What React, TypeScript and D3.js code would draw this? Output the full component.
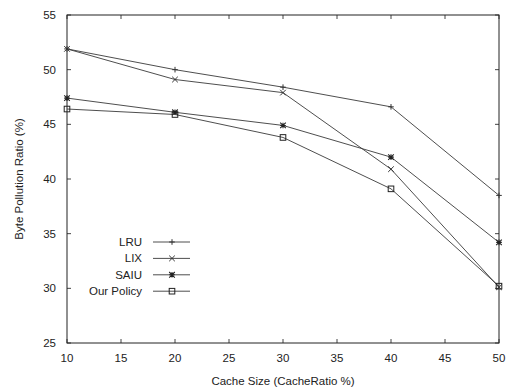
import React from 'react';
import * as d3 from 'd3';

const cacheSizes = [10, 20, 30, 40, 50];
const lru = [51.9, 50.0, 48.4, 46.6, 38.5];
const lix = [51.9, 49.1, 47.9, 40.9, 30.1];
const saiu = [47.4, 46.1, 44.9, 42.0, 34.2];
const ourPolicy = [46.4, 45.9, 43.8, 39.1, 30.2];
const seriesNames = ['LRU', 'LIX', 'SAIU', 'Our Policy'];
const markerTypes = ['plus', 'cross', 'star', 'square'];
const xTicks = [10, 15, 20, 25, 30, 35, 40, 45, 50];
const yTicks = [25, 30, 35, 40, 45, 50, 55];

const W = 515;
const H = 391;
const margin = { top: 15, right: 16, bottom: 48, left: 67 };
const font = '"Liberation Sans", Arial, sans-serif';

const Marker = ({ type, x, y }: { type: string; x: number; y: number }) => {
  const s = 2.8;
  if (type === 'plus') {
    return <path d={`M${x - s},${y}H${x + s}M${x},${y - s}V${y + s}`} stroke="#333" fill="none" />;
  }
  if (type === 'cross') {
    return <path d={`M${x - s},${y - s}L${x + s},${y + s}M${x - s},${y + s}L${x + s},${y - s}`} stroke="#333" fill="none" />;
  }
  if (type === 'star') {
    return (
      <path
        d={`M${x - s},${y}H${x + s}M${x},${y - s}V${y + s}M${x - s},${y - s}L${x + s},${y + s}M${x - s},${y + s}L${x + s},${y - s}`}
        stroke="#222"
        strokeWidth={1.1}
        fill="none"
      />
    );
  }
  return <rect x={x - s} y={y - s} width={s * 2} height={s * 2} stroke="#222" fill="none" />;
};

const App = () => {
  const x = d3.scaleLinear().domain([10, 50]).range([margin.left, W - margin.right]);
  const y = d3.scaleLinear().domain([25, 55]).range([H - margin.bottom, margin.top]);
  const series = [lru, lix, saiu, ourPolicy];
  const line = d3
    .line<number>()
    .x((_, i) => x(cacheSizes[i]))
    .y(d => y(d));

  const x0 = margin.left;
  const x1 = W - margin.right;
  const y0 = H - margin.bottom;
  const y1 = margin.top;
  const tick = 4;

  return (
    <svg width={W} height={H} style={{ position: 'absolute', left: 0, top: 0, background: '#fff' }} fontFamily={font}>
      <rect x={0} y={0} width={W} height={H} fill="#fff" />
      {/* ticks, mirrored inward on all sides */}
      {xTicks.map(t => (
        <g key={'x' + t}>
          <line x1={x(t)} x2={x(t)} y1={y0} y2={y0 - tick} stroke="#444" />
          <line x1={x(t)} x2={x(t)} y1={y1} y2={y1 + tick} stroke="#444" />
          <text x={x(t)} y={y0 + 19} textAnchor="middle" fontSize={11.5} fill="#222">
            {t}
          </text>
        </g>
      ))}
      {yTicks.map(t => (
        <g key={'y' + t}>
          <line x1={x0} x2={x0 + tick} y1={y(t)} y2={y(t)} stroke="#444" />
          <line x1={x1} x2={x1 - tick} y1={y(t)} y2={y(t)} stroke="#444" />
          <text x={x0 - 11} y={y(t) + 4} textAnchor="end" fontSize={11.5} fill="#222">
            {t}
          </text>
        </g>
      ))}
      <rect x={x0} y={y1} width={x1 - x0} height={y0 - y1} fill="none" stroke="#222" strokeWidth={1} />

      {series.map((vals, si) => (
        <g key={seriesNames[si]}>
          <path d={line(vals) || ''} fill="none" stroke="#3a3a3a" strokeWidth={0.9} />
          {vals.map((v, i) => (
            <Marker key={i} type={markerTypes[si]} x={x(cacheSizes[i])} y={y(v)} />
          ))}
        </g>
      ))}

      {/* legend */}
      {seriesNames.map((name, i) => {
        const ly = 242 + i * 16.4;
        return (
          <g key={'leg' + name}>
            <text x={142} y={ly + 4} textAnchor="end" fontSize={11.5} fill="#222">
              {name}
            </text>
            <line x1={153} x2={190} y1={ly} y2={ly} stroke="#3a3a3a" strokeWidth={0.9} />
            <Marker type={markerTypes[i]} x={172} y={ly} />
          </g>
        );
      })}

      <text x={(x0 + x1) / 2} y={385} textAnchor="middle" fontSize={11.5} fill="#222">
        Cache Size (CacheRatio %)
      </text>
      <text
        transform={`translate(23,${(y0 + y1) / 2}) rotate(-90)`}
        textAnchor="middle"
        fontSize={11.5}
        fill="#222"
      >
        Byte Pollution Ratio (%)
      </text>
    </svg>
  );
};

export default App;
